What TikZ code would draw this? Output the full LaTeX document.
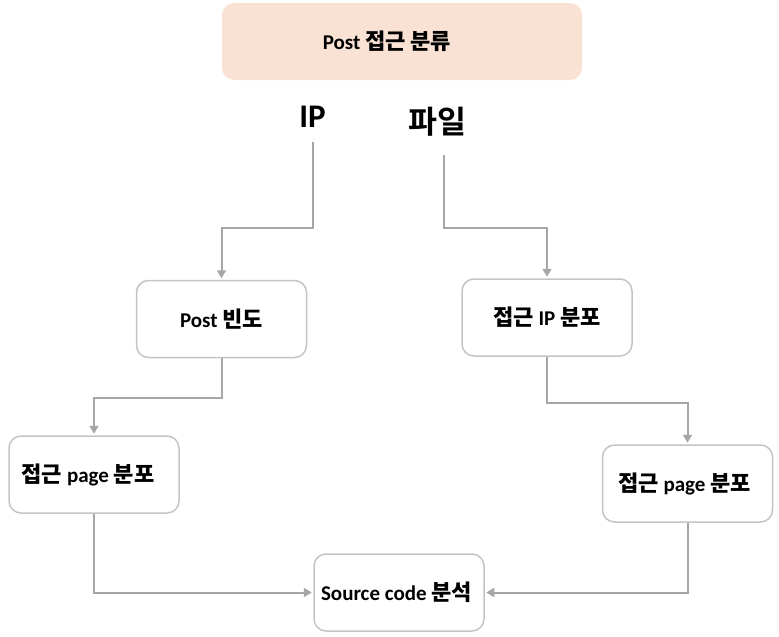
\documentclass[tikz,border=0pt]{standalone}
\usepackage{fontspec}
\setmainfont{Carlito}
\newfontfamily\kr[Scale=1.05]{Noto Sans CJK KR Bold}
\usetikzlibrary{arrows.meta}
\definecolor{topfill}{HTML}{F9E1D3}
\definecolor{linegray}{HTML}{A6A6A6}
\definecolor{boxline}{HTML}{C4C4C4}

\begin{document}
\begin{tikzpicture}[x=1pt,y=-1pt,
    stepbox/.style={draw=boxline, line width=1.5pt, rounded corners=12pt, fill=white,
      minimum width=170pt, minimum height=77pt, font=\bfseries\fontsize{21}{24}\selectfont},
    conn/.style={draw=linegray, line width=2pt, -{Triangle[length=8pt,width=9pt]}, shorten >=1.5pt}]
\useasboundingbox (0,0) rectangle (779,637);
% title and the two branches
\node[fill=topfill, rounded corners=12pt, minimum width=360pt, minimum height=77pt,
      font=\bfseries\fontsize{21}{24}\selectfont] (cat) at (402,41.5) {Post {\kr 접근 분류}\hspace*{30pt}};
\node[font=\bfseries\fontsize{33}{36}\selectfont] (ip) at (312.5,116.5) {IP};
\node[font=\kr\fontsize{30}{34}\selectfont] (file) at (437.5,122) {파일};
\coordinate (ipend) at (312.5,142);
\coordinate (fileend) at (444,155);
% boxes
\node[stepbox] (freq) at (221.5,319) {Post {\kr 빈도}};
\node[stepbox] (ipdist) at (547,317.5) {{\kr 접근} IP {\kr 분포}};
\node[stepbox] (lpage) at (94,474.5) {{\kr 접근} page {\kr 분포}\hspace*{12pt}};
\node[stepbox] (rpage) at (687.5,483.5) {{\kr 접근} page {\kr 분포}\hspace*{6pt}};
\node[stepbox] (src) at (399,592.5) {Source code {\kr 분석}\hspace*{5pt}};
% connectors
\draw[conn] (ipend) -- ++(0,86) -| (freq.north);
\draw[conn] (fileend) -- ++(0,73) -| (ipdist.north);
\draw[conn] (freq.south) -- ++(0,40) -| (lpage.north);
\draw[conn] (ipdist.south) -- ++(0,46) -| (rpage.north);
\draw[conn] (lpage.south) |- (src.west);
\draw[conn] (rpage.south) |- (src.east);
\end{tikzpicture}
\end{document}
